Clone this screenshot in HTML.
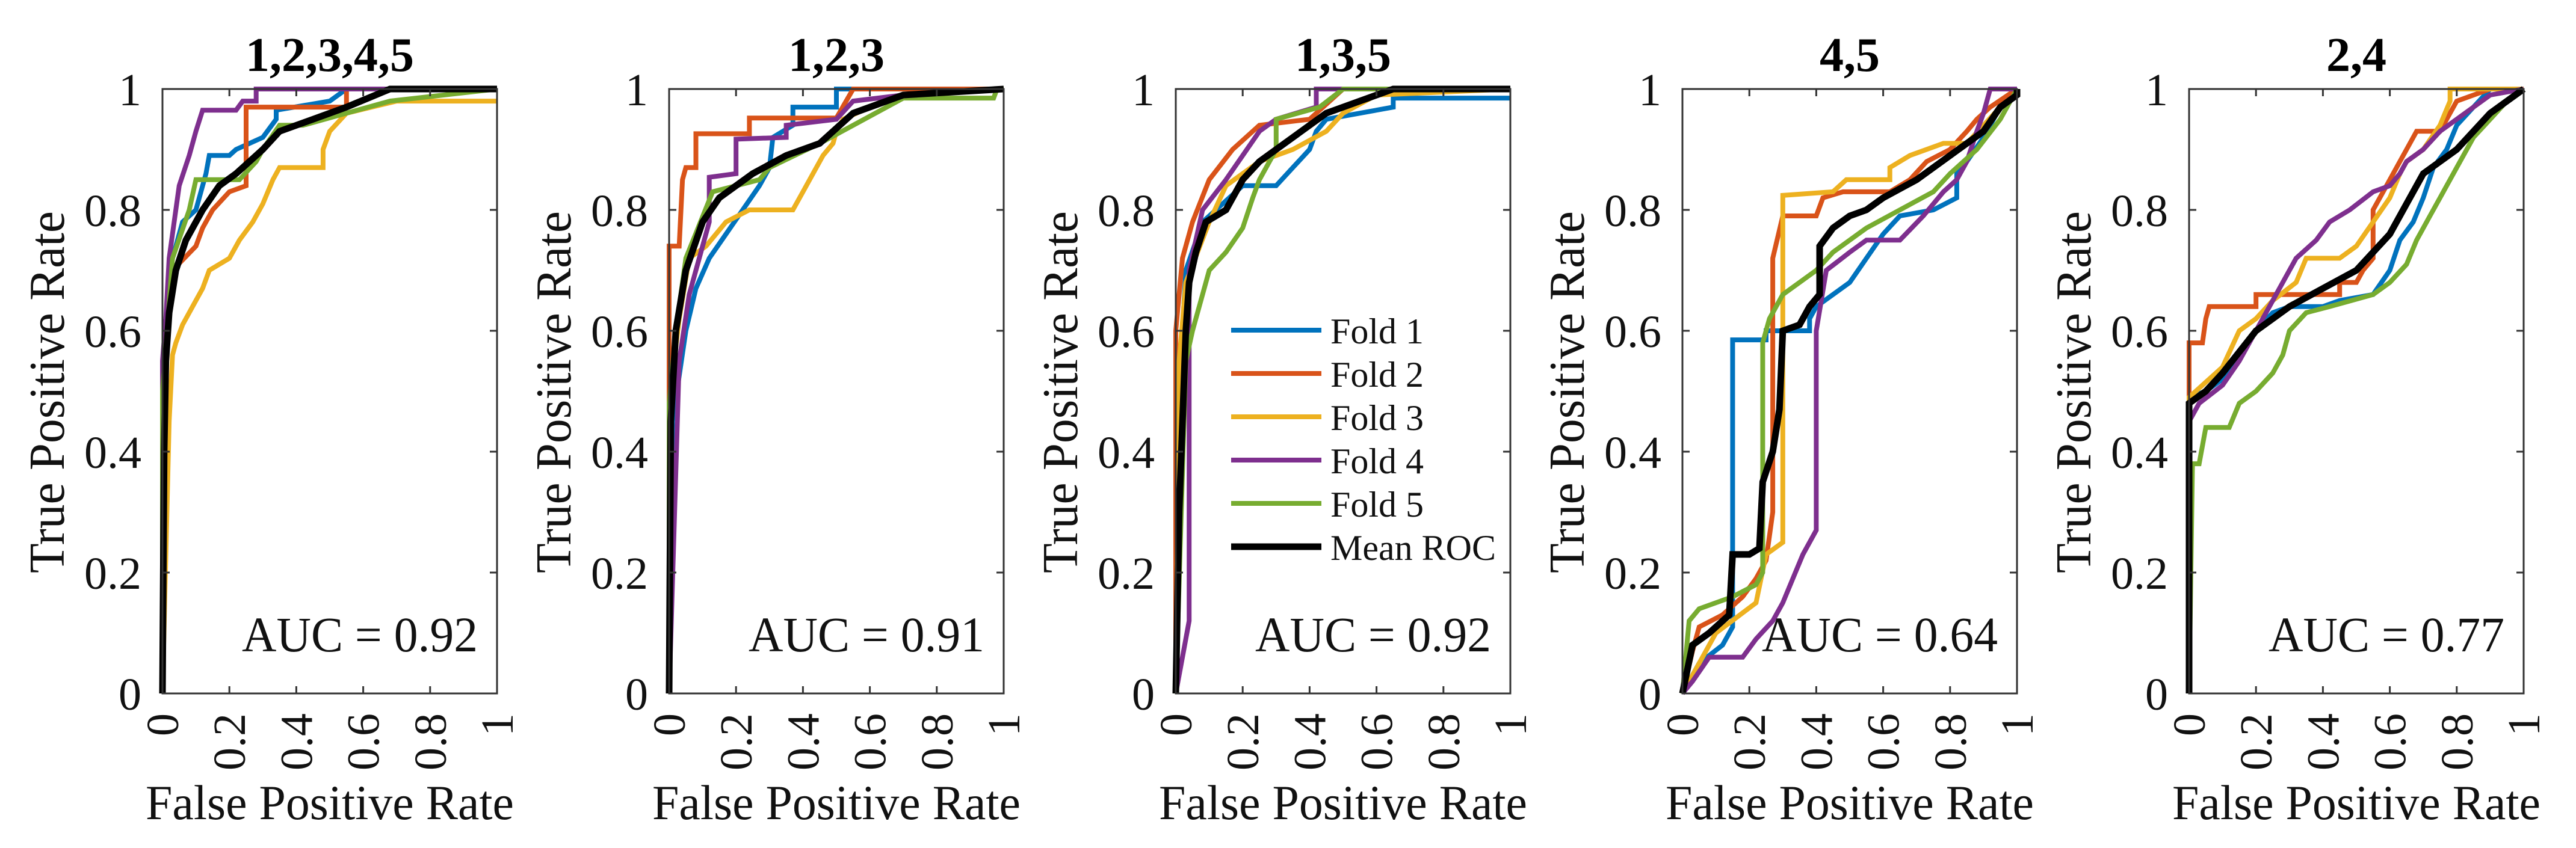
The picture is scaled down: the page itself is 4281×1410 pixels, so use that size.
<!DOCTYPE html>
<html><head><meta charset="utf-8"><style>
html,body{margin:0;padding:0;background:#fff;}
svg{display:block;font-family:"Liberation Serif",serif;}
svg text{font-family:"Liberation Serif",serif;}
</style></head><body>
<svg id="fig" width="4281" height="1410" viewBox="0 0 4281 1410" xmlns="http://www.w3.org/2000/svg" font-family="Liberation Serif, serif">
<rect width="4281" height="1410" fill="#fff"/>
</svg>
<script>
const titles = ["1,2,3,4,5","1,2,3","1,3,5","4,5","2,4"];
const aucs = ["0.92","0.91","0.92","0.64","0.77"];
const tickVals = [0,0.2,0.4,0.6,0.8,1];
const tickLabels = ["0","0.2","0.4","0.6","0.8","1"];
const seriesNames = ["Fold 1","Fold 2","Fold 3","Fold 4","Fold 5","Mean ROC"];
const seriesColors = ["#0072BD","#D95319","#EDB120","#7E2F8E","#77AC30","#000000"];

// Panel 1: 1,2,3,4,5
const p1Fold1 = [[0,0],[0,0.5],[0.02,0.7],[0.06,0.78],[0.1,0.8],[0.13,0.86],[0.14,0.89],[0.2,0.89],[0.22,0.9],[0.3,0.92],[0.34,0.95],[0.34,0.965],[0.5,0.98],[0.55,1],[1,1]];
const p1Fold2 = [[0,0],[0,0.5],[0.03,0.7],[0.1,0.74],[0.12,0.77],[0.15,0.8],[0.2,0.83],[0.25,0.84],[0.25,0.97],[0.55,0.97],[0.55,1],[1,1]];
const p1Fold3 = [[0,0],[0.02,0.45],[0.03,0.56],[0.04,0.58],[0.06,0.61],[0.09,0.64],[0.12,0.67],[0.14,0.7],[0.2,0.72],[0.23,0.75],[0.27,0.78],[0.3,0.81],[0.33,0.85],[0.35,0.87],[0.48,0.87],[0.48,0.9],[0.5,0.93],[0.55,0.96],[0.7,0.98],[1,0.98]];
const p1Fold4 = [[0,0],[0,0.55],[0.01,0.62],[0.02,0.72],[0.04,0.8],[0.05,0.84],[0.08,0.89],[0.1,0.93],[0.12,0.965],[0.22,0.965],[0.24,0.98],[0.28,0.98],[0.28,1],[1,1]];
const p1Fold5 = [[0,0],[0,0.5],[0.03,0.72],[0.08,0.8],[0.1,0.85],[0.23,0.85],[0.28,0.88],[0.3,0.9],[0.35,0.94],[0.42,0.94],[0.55,0.96],[0.68,0.98],[1,1]];
const p1Mean = [[0,0],[0.005,0.4],[0.01,0.55],[0.02,0.63],[0.04,0.7],[0.07,0.75],[0.12,0.8],[0.17,0.84],[0.22,0.86],[0.3,0.9],[0.35,0.93],[0.45,0.95],[0.55,0.97],[0.68,1],[1,1]];
// Panel 2: 1,2,3
const p2Fold1 = [[0,0],[0.01,0.45],[0.05,0.6],[0.08,0.67],[0.12,0.72],[0.17,0.76],[0.22,0.8],[0.27,0.84],[0.3,0.87],[0.31,0.92],[0.37,0.94],[0.37,0.97],[0.5,0.97],[0.5,1],[1,1]];
const p2Fold2 = [[0,0],[0,0.74],[0.03,0.74],[0.04,0.85],[0.05,0.87],[0.08,0.87],[0.08,0.926],[0.24,0.926],[0.24,0.952],[0.5,0.952],[0.55,1],[1,1]];
const p2Fold3 = [[0,0],[0,0.48],[0.03,0.62],[0.06,0.72],[0.11,0.74],[0.17,0.78],[0.24,0.8],[0.37,0.8],[0.4,0.83],[0.43,0.86],[0.46,0.89],[0.49,0.91],[0.5,0.93],[0.52,0.95],[0.6,0.97],[0.7,0.99],[1,1]];
const p2Fold4 = [[0,0],[0.03,0.55],[0.06,0.66],[0.08,0.7],[0.12,0.78],[0.12,0.854],[0.2,0.86],[0.2,0.917],[0.35,0.92],[0.35,0.94],[0.5,0.95],[0.55,0.98],[0.7,0.99],[1,1]];
const p2Fold5 = [[0,0],[0,0.48],[0.02,0.6],[0.05,0.72],[0.13,0.83],[0.27,0.85],[0.3,0.87],[0.45,0.91],[0.55,0.94],[0.7,0.985],[0.97,0.985],[0.98,1],[1,1]];
const p2Mean = [[0,0],[0.005,0.45],[0.02,0.6],[0.05,0.7],[0.1,0.78],[0.15,0.82],[0.25,0.86],[0.35,0.89],[0.45,0.91],[0.55,0.96],[0.7,0.99],[1,1]];
// Panel 3: 1,3,5
const p3Fold1 = [[0,0],[0.01,0.5],[0.03,0.7],[0.08,0.78],[0.2,0.84],[0.3,0.84],[0.35,0.87],[0.4,0.9],[0.42,0.93],[0.45,0.95],[0.65,0.97],[0.65,0.985],[1,0.985]];
const p3Fold2 = [[0,0],[0,0.6],[0.02,0.72],[0.05,0.78],[0.1,0.85],[0.17,0.9],[0.25,0.94],[0.4,0.95],[0.5,1],[1,1]];
const p3Fold3 = [[0,0],[0.01,0.55],[0.03,0.68],[0.1,0.78],[0.15,0.84],[0.25,0.88],[0.35,0.9],[0.45,0.93],[0.5,0.96],[0.6,0.99],[1,1]];
const p3Fold4 = [[0,0],[0.04,0.12],[0.04,0.7],[0.08,0.8],[0.15,0.85],[0.25,0.93],[0.3,0.95],[0.42,0.97],[0.42,1],[1,1]];
const p3Fold5 = [[0,0],[0.03,0.55],[0.05,0.6],[0.08,0.66],[0.1,0.7],[0.15,0.73],[0.2,0.77],[0.23,0.82],[0.25,0.85],[0.3,0.9],[0.3,0.95],[0.43,0.97],[0.5,1],[1,1]];
const p3Mean = [[0,0],[0.01,0.3],[0.03,0.6],[0.04,0.68],[0.06,0.73],[0.09,0.78],[0.15,0.8],[0.2,0.85],[0.25,0.88],[0.35,0.92],[0.45,0.96],[0.55,0.98],[0.65,1],[1,1]];
// Panel 4: 4,5
const p4Fold1 = [[0,0],[0.05,0.05],[0.12,0.08],[0.15,0.11],[0.15,0.585],[0.25,0.585],[0.25,0.6],[0.38,0.6],[0.38,0.62],[0.4,0.64],[0.45,0.66],[0.5,0.68],[0.55,0.72],[0.6,0.76],[0.65,0.79],[0.75,0.8],[0.82,0.82],[0.82,0.86],[0.85,0.88],[0.9,0.92],[0.95,0.97],[1,1]];
const p4Fold2 = [[0,0],[0.03,0.07],[0.05,0.11],[0.12,0.13],[0.18,0.16],[0.22,0.19],[0.25,0.22],[0.27,0.3],[0.27,0.72],[0.3,0.79],[0.4,0.79],[0.42,0.82],[0.48,0.83],[0.62,0.83],[0.68,0.85],[0.73,0.88],[0.8,0.9],[0.85,0.93],[0.88,0.95],[0.92,0.97],[1,1]];
const p4Fold3 = [[0,0],[0.05,0.05],[0.1,0.1],[0.22,0.15],[0.25,0.23],[0.3,0.25],[0.3,0.824],[0.45,0.83],[0.49,0.85],[0.62,0.85],[0.62,0.87],[0.68,0.89],[0.78,0.91],[0.85,0.91],[0.9,0.94],[0.95,0.97],[1,0.99]];
const p4Fold4 = [[0,0],[0.03,0.02],[0.08,0.06],[0.18,0.06],[0.22,0.09],[0.27,0.12],[0.3,0.15],[0.33,0.19],[0.36,0.23],[0.4,0.27],[0.4,0.6],[0.43,0.7],[0.5,0.73],[0.55,0.75],[0.65,0.75],[0.72,0.79],[0.78,0.83],[0.82,0.85],[0.85,0.88],[0.88,0.93],[0.9,0.96],[0.92,1],[1,1]];
const p4Fold5 = [[0,0],[0.02,0.12],[0.05,0.14],[0.15,0.16],[0.22,0.18],[0.24,0.2],[0.24,0.58],[0.26,0.62],[0.3,0.66],[0.35,0.68],[0.4,0.7],[0.45,0.73],[0.55,0.77],[0.65,0.8],[0.75,0.83],[0.8,0.86],[0.88,0.9],[0.95,0.95],[1,1]];
const p4Mean = [[0,0],[0.03,0.08],[0.08,0.1],[0.14,0.13],[0.15,0.23],[0.2,0.23],[0.23,0.24],[0.24,0.35],[0.27,0.4],[0.29,0.47],[0.3,0.6],[0.35,0.61],[0.38,0.64],[0.41,0.66],[0.41,0.74],[0.45,0.77],[0.5,0.79],[0.55,0.8],[0.6,0.82],[0.7,0.85],[0.8,0.89],[0.9,0.93],[0.95,0.97],[1,0.99],[1,1]];
// Panel 5: 2,4
const p5Fold1 = [[0,0],[0,0.49],[0.05,0.5],[0.1,0.52],[0.15,0.56],[0.2,0.6],[0.25,0.63],[0.3,0.64],[0.4,0.64],[0.45,0.65],[0.55,0.66],[0.6,0.7],[0.63,0.75],[0.67,0.78],[0.7,0.82],[0.73,0.87],[0.77,0.9],[0.8,0.94],[0.85,0.97],[0.9,1],[1,1]];
const p5Fold2 = [[0,0],[0,0.58],[0.04,0.58],[0.05,0.62],[0.06,0.64],[0.2,0.64],[0.2,0.66],[0.45,0.66],[0.45,0.68],[0.5,0.68],[0.52,0.7],[0.55,0.72],[0.55,0.8],[0.58,0.83],[0.6,0.85],[0.65,0.9],[0.68,0.93],[0.75,0.93],[0.8,0.98],[0.9,1],[1,1]];
const p5Fold3 = [[0,0],[0,0.49],[0.1,0.54],[0.15,0.6],[0.2,0.62],[0.25,0.65],[0.32,0.68],[0.35,0.72],[0.45,0.72],[0.5,0.74],[0.55,0.78],[0.6,0.82],[0.63,0.86],[0.65,0.88],[0.7,0.9],[0.75,0.94],[0.78,0.98],[0.78,1],[1,1]];
const p5Fold4 = [[0,0],[0,0.45],[0.03,0.48],[0.1,0.51],[0.15,0.55],[0.2,0.6],[0.25,0.65],[0.28,0.68],[0.32,0.72],[0.38,0.75],[0.42,0.78],[0.48,0.8],[0.55,0.83],[0.6,0.84],[0.63,0.86],[0.65,0.88],[0.7,0.9],[0.75,0.93],[0.8,0.95],[0.9,0.99],[1,1]];
const p5Fold5 = [[0,0],[0.01,0.38],[0.03,0.38],[0.05,0.44],[0.12,0.44],[0.15,0.48],[0.2,0.5],[0.25,0.53],[0.28,0.56],[0.3,0.6],[0.35,0.63],[0.42,0.64],[0.55,0.66],[0.6,0.68],[0.65,0.71],[0.68,0.75],[0.72,0.79],[0.75,0.82],[0.8,0.87],[0.85,0.92],[0.9,0.95],[0.95,0.98],[1,1]];
const p5Mean = [[0,0],[0,0.48],[0.05,0.5],[0.1,0.53],[0.2,0.6],[0.3,0.64],[0.4,0.67],[0.5,0.7],[0.6,0.76],[0.65,0.81],[0.7,0.86],[0.8,0.9],[0.9,0.96],[1,1]];

const panelSeries = [
  [p1Fold1,p1Fold2,p1Fold3,p1Fold4,p1Fold5,p1Mean],
  [p2Fold1,p2Fold2,p2Fold3,p2Fold4,p2Fold5,p2Mean],
  [p3Fold1,p3Fold2,p3Fold3,p3Fold4,p3Fold5,p3Mean],
  [p4Fold1,p4Fold2,p4Fold3,p4Fold4,p4Fold5,p4Mean],
  [p5Fold1,p5Fold2,p5Fold3,p5Fold4,p5Fold5,p5Mean]
];

const NS = "http://www.w3.org/2000/svg";
const svg = document.getElementById("fig");
const TOP = 148, H = 1005, W = 556;
const FONT = "Liberation Serif, serif";
function mk(tag, attrs, parent, text) {
  const e = document.createElementNS(NS, tag);
  for (const k in attrs) e.setAttribute(k, attrs[k]);
  if (tag === "text") e.setAttribute("font-family", FONT);
  if (text !== undefined) e.textContent = text;
  parent.appendChild(e);
  return e;
}

for (let p = 0; p < 5; p++) {
  const L = 270 + 842 * p;
  const xs = v => L + v * W;
  const ys = v => TOP + H - v * H;
  const g = mk("g", {}, svg);
  
  

  const clipId = "clip" + p;
  const cp = mk("clipPath", {id: clipId}, g);
  mk("rect", {x: L - 6, y: TOP - 6, width: W + 12, height: H + 12}, cp);

  const sg = mk("g", {"clip-path": "url(#" + clipId + ")"}, g);
  panelSeries[p].forEach((pts, si) => {
    const d = pts.map((q, i) => (i ? "L" : "M") + xs(q[0]).toFixed(1) + " " + ys(q[1]).toFixed(1)).join(" ");
    const path = mk("path", {d: d, fill: "none", stroke: seriesColors[si], "stroke-width": si === 5 ? 11 : 8, "stroke-linejoin": "miter"}, sg);
    
    
  });

  const box = mk("rect", {x: L, y: TOP, width: W, height: H, fill: "none", stroke: "#333", "stroke-width": 3}, g);
  
  

  tickVals.forEach((v, i) => {
    const x = xs(v), y = ys(v);
    mk("line", {x1: x, y1: TOP + H, x2: x, y2: TOP + H - 12, stroke: "#333", "stroke-width": 3}, g);
    mk("line", {x1: x, y1: TOP, x2: x, y2: TOP + 12, stroke: "#333", "stroke-width": 3}, g);
    mk("line", {x1: L, y1: y, x2: L + 12, y2: y, stroke: "#333", "stroke-width": 3}, g);
    mk("line", {x1: L + W, y1: y, x2: L + W - 12, y2: y, stroke: "#333", "stroke-width": 3}, g);
    const yt = mk("text", {x: L - 35, y: y + 27, "font-size": 76, "text-anchor": "end", fill: "#111"}, g, tickLabels[i]);
    
    
    const xt = mk("text", {x: 0, y: 0, "font-size": 76, "text-anchor": "end", fill: "#111",
      transform: "translate(" + (x + 26) + "," + (TOP + H + 33) + ") rotate(-90)"}, g, tickLabels[i]);
    
    
  });

  const t = mk("text", {x: L + W / 2, y: 118, "font-size": 80, "font-weight": "bold", "text-anchor": "middle", fill: "#000"}, g, titles[p]);
  
  

  const xl = mk("text", {x: L + W / 2, y: 1362, "font-size": 82, "text-anchor": "middle", textLength: 612, lengthAdjust: "spacingAndGlyphs", fill: "#111"}, g, "False Positive Rate");
  
  

  const yl = mk("text", {x: 0, y: 0, "font-size": 84, "text-anchor": "middle", textLength: 602, lengthAdjust: "spacingAndGlyphs", fill: "#111",
    transform: "translate(" + (L - 164) + ",652) rotate(-90)"}, g, "True Positive Rate");
  
  

  if (p === 2) {
    const lg = mk("g", {}, g);
    
    
    mk("rect", {x: 2030, y: 505, width: 455, height: 435, fill: "#fff"}, lg);
    seriesNames.forEach((n, si) => {
      const ry = 549 + 72 * si;
      const e = mk("g", {}, lg);
      
      
      mk("line", {x1: 2046, y1: ry, x2: 2196, y2: ry, stroke: seriesColors[si], "stroke-width": si === 5 ? 11 : 8}, e);
      mk("text", {x: 2211, y: ry + 22, "font-size": 60, fill: "#111"}, e, n);
    });
  }

  const a = mk("text", {x: L + 524, y: 1083, "font-size": 83, "text-anchor": "end", textLength: 392, lengthAdjust: "spacingAndGlyphs", fill: "#111"}, g, "AUC = " + aucs[p]);
  
  
}
</script>
</body></html>
